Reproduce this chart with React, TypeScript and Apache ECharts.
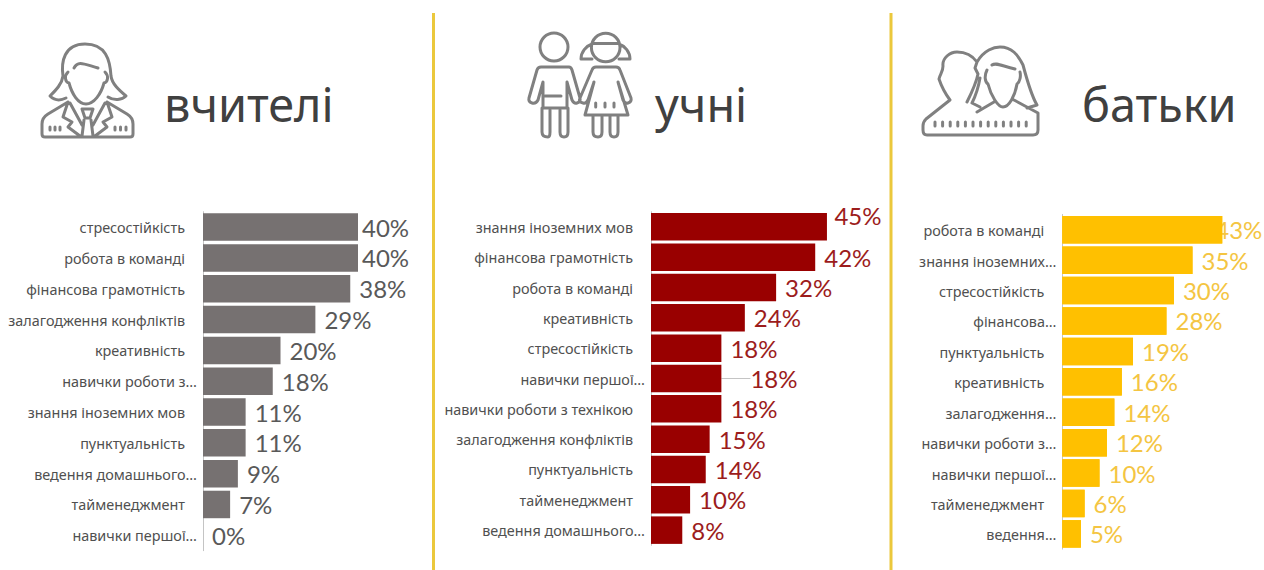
import React, { useEffect, useRef } from "react";
import * as echarts from "echarts";

// Survey shares in percent, one list per respondent group
const teacherSkills = ["стресостійкість", "робота в команді", "фінансова грамотність", "залагодження конфліктів", "креативність", "навички роботи з…", "знання іноземних мов", "пунктуальність", "ведення домашнього…", "тайменеджмент", "навички першої…"];
const teacherValues = [40, 40, 38, 29, 20, 18, 11, 11, 9, 7, 0];

const pupilSkills = ["знання іноземних мов", "фінансова грамотність", "робота в команді", "креативність", "стресостійкість", "навички першої…", "навички роботи з технікою", "залагодження конфліктів", "пунктуальність", "тайменеджмент", "ведення домашнього…"];
const pupilValues = [45, 42, 32, 24, 18, 18, 18, 15, 14, 10, 8];

const parentSkills = ["робота в команді", "знання іноземних…", "стресостійкість", "фінансова…", "пунктуальність", "креативність", "залагодження…", "навички роботи з…", "навички першої…", "тайменеджмент", "ведення…"];
const parentValues = [43, 35, 30, 28, 19, 16, 14, 12, 10, 6, 5];

const ICON_COLOR = "#808080";

const teacherIcon =
  "M66 98C60 101 54 100 50 96C56 90 62 84 63 76C61 62 64 44 85 44C106 44 110 60 111 76C112 84 119 90 126 96C122 100 114 101 108 97" +
  "M68 72C64 76 65 82 69 83C72 94 78 104 86 104C94 104 101 94 104 83C108 82 109 76 105 72" +
  "M74 68C78 60 84 64 98 68" +
  "M68 102L48 114C43 117 42 120 42 124L42 134Q42 137 45 137L130 137Q133 137 133 134L133 124C133 120 132 117 127 114L107 102" +
  "M68 102L63 117L72 122L68 127L80 136M107 102L112 117L103 122L107 127L95 136" +
  "M70 103L82 125M105 103L93 125M82 109L93 109L90 118L85 118ZM84 120L82 136M91 120L93 136" +
  "M50 127V130M55 127V130M60 127V130M115 127V130M120.500 127V130M126 127V130";

const pupilsIcon =
  "M568 47A14 14 0 1 1 540 47A14 14 0 1 1 568 47" +
  "M541 67H569Q571 67 572 70L580 98Q581 102 577 103Q574 104 572 100L567 82V108H543V82L538 100Q536 104 532 103Q528 102 529 98L537 70Q538 67 541 67Z" +
  "M545 96H561M542 108V132Q542 137 548 137Q550 137 550 132V110M560 110V132Q560 137 564 137Q568 137 568 132V108" +
  "M620 47.500A14.300 14.300 0 1 1 591.400 47.500A14.300 14.300 0 1 1 620 47.500M593 43.500H618" +
  "M592 44C586 46 581 52 581 59H592M619 44C625 46 630 52 630 59H619" +
  "M596 67H616Q619 67 620 70L631 98Q632 102 628 103Q625 104 623 100L618 82L628 115H585L594 82L588 100Q586 104 583 103Q578 102 580 98L592 70Q593 67 596 67Z" +
  "M593 115V132Q593 137 598 137Q602 137 602 132V115M610 115V132Q610 137 614 137Q618 137 618 132V115" +
  "M595.700 103V107M605 103V107M614 103V107";

const parentsIcon =
  "M950 100C944 92 941 85 939 79C940 74 943 72 943 66C942 58 950 52 957 52C964 52 972 55 977 62" +
  "M977 62L975 68L978 74C976 84 972 92 967 102" +
  "M977 62C984 50 994 47 1000 47C1012 47 1018 55 1023 65C1027 80 1031 95 1037 105L1027 108" +
  "M980 78C978 90 975 97 972 103L980 107" +
  "M987 70C984 76 985 82 988 84C991 96 998 107 1003 107C1009 107 1015 96 1017 84C1020 82 1021 76 1020 72" +
  "M992 65C996 62 1002 66 1015 69" +
  "M950 100L926 119Q923 122 923 126V130Q923 135 927 135H1033Q1038 135 1038 130V113L1014 100M977 112L994 102" +
  "M935 122V126M942.600 122V126M950.200 122V126M957.800 122V126M965.400 122V126M973 122V126M980.600 122V126M988.200 122V126M995.800 122V126M1003.400 122V126M1011 122V126M1018.600 122V126M1026.200 122V126";

echarts.graphic.registerShape("teacherIcon", echarts.graphic.extendPath(teacherIcon, {}));
echarts.graphic.registerShape("pupilsIcon", echarts.graphic.extendPath(pupilsIcon, {}));
echarts.graphic.registerShape("parentsIcon", echarts.graphic.extendPath(parentsIcon, {}));

type Shift = { dx?: number; dy?: number };

const BAR_WIDTH = 27.5;

const panel = (
  index: number,
  skills: string[],
  values: number[],
  barColor: string,
  labelColor: string,
  nameDrop: number,
  shifts: Record<number, Shift>,
  leaders: number[]
) => ({
  axis: {
    type: "category",
    gridIndex: index,
    inverse: true,
    data: skills,
    axisTick: { show: false },
    axisLine: { show: true, lineStyle: { color: "#C4C4C4", width: 1 } },
    axisLabel: {
      interval: 0,
      margin: 6,
      // Untruncated names sit further from the axis than the shortened ones
      formatter: (name: string) => (name.endsWith("…") ? `{cut|${name}}` : `{full|${name}}`),
      rich: {
        cut: { fontFamily: "Noto Sans", fontSize: 14.4, color: "#505050", padding: [nameDrop, 0, 0, 0] },
        full: { fontFamily: "Noto Sans", fontSize: 14.4, color: "#505050", padding: [nameDrop, 12, 0, 0] },
      },
    },
  },
  value: { type: "value", gridIndex: index, min: 0, max: 50, show: false, splitLine: { show: false } },
  series: {
    type: "bar",
    xAxisIndex: index,
    yAxisIndex: index,
    barWidth: BAR_WIDTH,
    barGap: "-100%",
    silent: true,
    itemStyle: { color: barColor },
    data: values.map((value, i) => (leaders.includes(i) ? { value, labelLine: { show: true, lineStyle: { color: "#C4C4C4", width: 1 } } } : value)),
    label: {
      show: true,
      position: "right",
      distance: 9,
      formatter: "{c}%",
      fontFamily: "Lato",
      fontSize: 24,
      color: labelColor,
    },
    labelLayout: (params: { dataIndex: number }) => shifts[params.dataIndex] ?? {},
  },
});

const panels = [
  panel(0, teacherSkills, teacherValues, "#767171", "#595959", 1, { 0: { dx: -5 }, 1: { dx: -5 } }, []),
  panel(1, pupilSkills, pupilValues, "#990000", "#9C1C1C", 1, { 0: { dx: -1.5, dy: -11 }, 5: { dx: 20 } }, [5]),
  panel(2, parentSkills, parentValues, "#FFC000", "#F4C542", 2, { 0: { dx: -16 } }, []),
];

// The longest parents' bar runs over the start of its own label
const parentCover = {
  type: "bar",
  xAxisIndex: 2,
  yAxisIndex: 2,
  barWidth: BAR_WIDTH,
  barGap: "-100%",
  silent: true,
  z: 5,
  itemStyle: { color: "#FFC000" },
  data: parentValues,
};

const title = (text: string, x: number) => ({
  type: "text",
  x,
  y: 127.5,
  style: { text, fontFamily: "Noto Sans", fontSize: 46.8, fill: "#404040", textVerticalAlign: "bottom" },
});

const icon = (type: string) => ({
  type,
  style: { fill: "none", stroke: ICON_COLOR, lineWidth: 3, lineJoin: "round", lineCap: "round" },
});

const divider = (x: number) => ({
  type: "rect",
  shape: { x, y: 13, width: 3, height: 557 },
  style: { fill: "#EBC83C" },
});

const option = {
  animation: false,
  backgroundColor: "#FFFFFF",
  grid: [
    { left: 203, top: 211.7, width: 193.75, height: 339 },
    { left: 651, top: 211.7, width: 195.5, height: 333.6 },
    { left: 1062.3, top: 214.5, width: 186, height: 334.6 },
  ],
  yAxis: panels.map((p) => p.axis),
  xAxis: panels.map((p) => p.value),
  series: [...panels.map((p) => p.series), parentCover],
  graphic: [
    divider(432),
    divider(889.5),
    icon("teacherIcon"),
    icon("pupilsIcon"),
    icon("parentsIcon"),
    title("вчителі", 164),
    title("учні", 655),
    title("батьки", 1082),
  ],
};

export default function App() {
  const ref = useRef<HTMLDivElement>(null);

  useEffect(() => {
    const chart = echarts.init(ref.current!, null, { renderer: "svg" });
    chart.setOption(option as any);
    return () => chart.dispose();
  }, []);

  return <div ref={ref} style={{ position: "absolute", left: 0, top: 0, width: 1264, height: 570 }} />;
}
